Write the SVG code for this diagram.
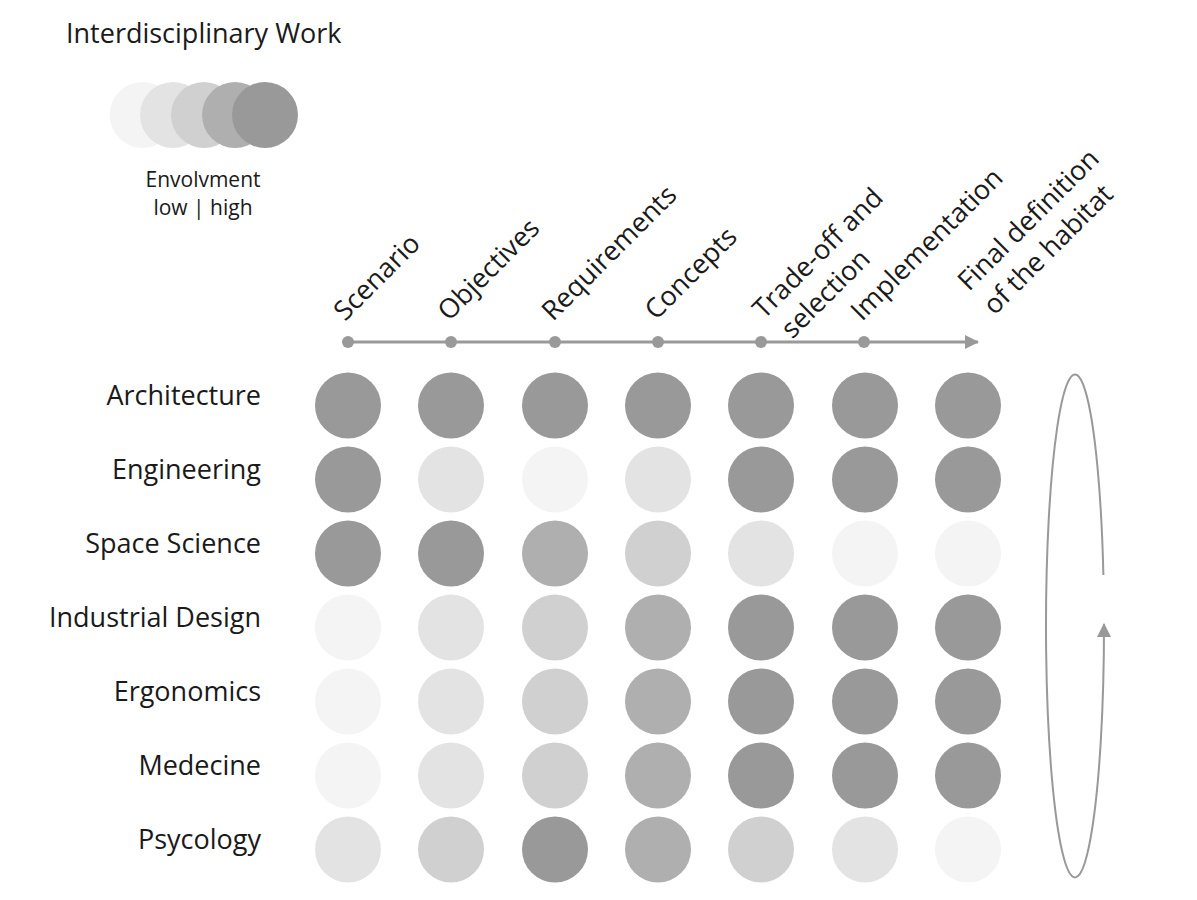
<svg xmlns="http://www.w3.org/2000/svg" width="1197" height="900" viewBox="0 0 1197 900">
<style>
text{font-family:"Open Sans","Noto Sans","Liberation Sans",sans-serif;fill:#1a1a1a}
.t{font-size:27px}
.row{font-size:27px;text-anchor:end}
.col{font-size:27px}
.leg{font-size:21px;text-anchor:middle}
.l1{fill:#f4f4f4}.l2{fill:#e3e3e3}.l3{fill:#d0d0d0}.l4{fill:#afafaf}.l5{fill:#999999}
.axis{stroke:#999;stroke-width:3;fill:none}
.loop{stroke:#999;stroke-width:2;fill:none}
.dot{fill:#999}
</style>
<defs>
<marker id="arrow" viewBox="0 0 14 14" refX="13" refY="7" markerWidth="14" markerHeight="14" markerUnits="userSpaceOnUse" orient="auto"><path d="M0,0 L14,7 L0,14 z" fill="#999"/></marker>
</defs>
<rect width="1197" height="900" fill="#fff"/>
<g id="legend">
<text class="t" x="66" y="43">Interdisciplinary Work</text>
<circle class="l1" cx="142.7" cy="115" r="33"/>
<circle class="l2" cx="173" cy="115" r="33"/>
<circle class="l3" cx="204" cy="115" r="33"/>
<circle class="l4" cx="235" cy="115" r="33"/>
<circle class="l5" cx="265" cy="115" r="33"/>
<text class="leg" x="203" y="187">Envolvment</text>
<text class="leg" x="203" y="215">low | high</text>
</g>
<g id="connectors">
<path class="axis" d="M348,342 H978" marker-end="url(#arrow)"/>
<circle class="dot" cx="348" cy="342" r="6"/>
<circle class="dot" cx="451" cy="342" r="6"/>
<circle class="dot" cx="555" cy="342" r="6"/>
<circle class="dot" cx="658" cy="342" r="6"/>
<circle class="dot" cx="761" cy="342" r="6"/>
<circle class="dot" cx="864" cy="342" r="6"/>
<path class="loop" d="M1103.4,575 A29,251.5 0 1,0 1104,624" marker-end="url(#arrow)"/>
</g>
<g id="columns">
<g id="col-scenario" transform="translate(345,322) rotate(-45)"><text class="col">Scenario</text></g>
<g id="col-objectives" transform="translate(449,322) rotate(-45)"><text class="col">Objectives</text></g>
<g id="col-requirements" transform="translate(553,322) rotate(-45)"><text class="col">Requirements</text></g>
<g id="col-concepts" transform="translate(656,321) rotate(-45)"><text class="col">Concepts</text></g>
<g id="col-tradeoff" transform="translate(764,320) rotate(-45)"><text class="col" x="0" y="0">Trade-off and</text><text class="col" x="6" y="34">selection</text></g>
<g id="col-implementation" transform="translate(862,322) rotate(-45)"><text class="col">Implementation</text></g>
<g id="col-final" transform="translate(969,292) rotate(-45)"><text class="col" x="0" y="0">Final definition</text><text class="col" x="1" y="35">of the habitat</text></g>
</g>
<g id="rows">
<g id="row-architecture"><text class="row" x="261" y="405">Architecture</text>
<circle class="l5" cx="348" cy="405.5" r="33"/><circle class="l5" cx="451" cy="405.5" r="33"/><circle class="l5" cx="555" cy="405.5" r="33"/><circle class="l5" cx="658" cy="405.5" r="33"/><circle class="l5" cx="761" cy="405.5" r="33"/><circle class="l5" cx="865" cy="405.5" r="33"/><circle class="l5" cx="968" cy="405.5" r="33"/></g>
<g id="row-engineering"><text class="row" x="261" y="479">Engineering</text>
<circle class="l5" cx="348" cy="479.5" r="33"/><circle class="l2" cx="451" cy="479.5" r="33"/><circle class="l1" cx="555" cy="479.5" r="33"/><circle class="l2" cx="658" cy="479.5" r="33"/><circle class="l5" cx="761" cy="479.5" r="33"/><circle class="l5" cx="865" cy="479.5" r="33"/><circle class="l5" cx="968" cy="479.5" r="33"/></g>
<g id="row-space-science"><text class="row" x="261" y="553">Space Science</text>
<circle class="l5" cx="348" cy="553.5" r="33"/><circle class="l5" cx="451" cy="553.5" r="33"/><circle class="l4" cx="555" cy="553.5" r="33"/><circle class="l3" cx="658" cy="553.5" r="33"/><circle class="l2" cx="761" cy="553.5" r="33"/><circle class="l1" cx="865" cy="553.5" r="33"/><circle class="l1" cx="968" cy="553.5" r="33"/></g>
<g id="row-industrial-design"><text class="row" x="261" y="627">Industrial Design</text>
<circle class="l1" cx="348" cy="627.5" r="33"/><circle class="l2" cx="451" cy="627.5" r="33"/><circle class="l3" cx="555" cy="627.5" r="33"/><circle class="l4" cx="658" cy="627.5" r="33"/><circle class="l5" cx="761" cy="627.5" r="33"/><circle class="l5" cx="865" cy="627.5" r="33"/><circle class="l5" cx="968" cy="627.5" r="33"/></g>
<g id="row-ergonomics"><text class="row" x="261" y="701">Ergonomics</text>
<circle class="l1" cx="348" cy="701.5" r="33"/><circle class="l2" cx="451" cy="701.5" r="33"/><circle class="l3" cx="555" cy="701.5" r="33"/><circle class="l4" cx="658" cy="701.5" r="33"/><circle class="l5" cx="761" cy="701.5" r="33"/><circle class="l5" cx="865" cy="701.5" r="33"/><circle class="l5" cx="968" cy="701.5" r="33"/></g>
<g id="row-medecine"><text class="row" x="261" y="775">Medecine</text>
<circle class="l1" cx="348" cy="775.5" r="33"/><circle class="l2" cx="451" cy="775.5" r="33"/><circle class="l3" cx="555" cy="775.5" r="33"/><circle class="l4" cx="658" cy="775.5" r="33"/><circle class="l5" cx="761" cy="775.5" r="33"/><circle class="l5" cx="865" cy="775.5" r="33"/><circle class="l5" cx="968" cy="775.5" r="33"/></g>
<g id="row-psycology"><text class="row" x="261" y="849">Psycology</text>
<circle class="l2" cx="348" cy="849.5" r="33"/><circle class="l3" cx="451" cy="849.5" r="33"/><circle class="l5" cx="555" cy="849.5" r="33"/><circle class="l4" cx="658" cy="849.5" r="33"/><circle class="l3" cx="761" cy="849.5" r="33"/><circle class="l2" cx="865" cy="849.5" r="33"/><circle class="l1" cx="968" cy="849.5" r="33"/></g>
</g>
</svg>
